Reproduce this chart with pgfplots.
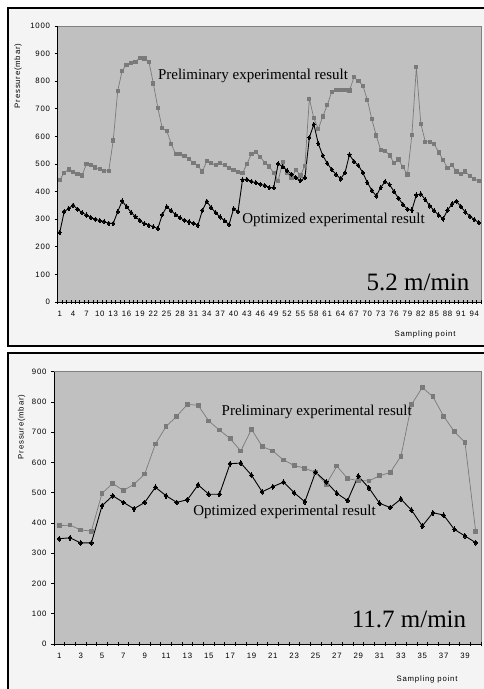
\documentclass[border=0pt]{standalone}
\usepackage{fontspec}
\setmainfont{Liberation Serif}
\newfontfamily\sansf[LetterSpace=10]{Liberation Sans}
\usepackage{pgfplots}
\pgfplotsset{compat=1.18}
\definecolor{bgc}{HTML}{F4F4F4}
\definecolor{plotbg}{HTML}{C0C0C0}
\definecolor{prelim}{HTML}{7A7A7A}

\pgfplotsset{
  mystyle/.style={
    scale only axis,
    axis x line*=bottom, axis y line*=left,
    axis line style={-, black, line width=0.9pt},
    axis background/.style={fill=plotbg, draw=gray, line width=0.6pt},
    ymin=0,
    major x tick style={draw=none},
    minor x tick style={black, line width=0.6pt},
    minor tick length=4pt,
    xtick align=center,
    ytick align=outside,
    major tick length=3pt,
    y tick style={black, line width=0.6pt},
    ticklabel style={font=\sansf\fontsize{7.8}{9}\selectfont},
    /pgf/number format/assume math mode=true,
    /pgf/number format/1000 sep={},
    xticklabel style={yshift=-4.5pt},
    yticklabel style={xshift=-1pt},
  },
  prelimplot/.style={color=prelim, line width=0.7pt, mark=square*, mark options={fill=prelim, draw=prelim, line width=0pt}},
  optplot/.style={color=black, line width=0.9pt, mark=diamond*, mark options={fill=black, draw=black, line width=0pt}},
}

\begin{document}
\begin{tikzpicture}[x=1pt,y=1pt]
\useasboundingbox (0,0) rectangle (483,689);
\fill[white] (0,0) rectangle (483,689);
\draw[line width=2pt, fill=bgc] (7.5,680.5) rectangle (495,342.5);
\draw[line width=2pt, fill=bgc] (7.5,335.5) rectangle (495,-10);

% ---------- top chart ----------
\begin{axis}[mystyle,
  at={(57.5pt,387pt)}, anchor=south west,
  width=423.5pt, height=276pt,
  xmin=0.5, xmax=95.5, ymax=1000,
  xtick={1,4,...,94},
  minor xtick={0.5,1.5,...,95.5},
  ytick={0,100,...,1000},
]
\addplot[prelimplot, mark size=1.6pt] coordinates {
(1,442) (2,468) (3,480) (4,470) (5,463) (6,458) (7,501) (8,496) (9,487) (10,481)
(11,476) (12,476) (13,585) (14,764) (15,838) (16,859) (17,866) (18,871) (19,885) (20,882)
(21,871) (22,792) (23,704) (24,629) (25,621) (26,573) (27,536) (28,536) (29,530) (30,517)
(31,505) (32,493) (33,473) (34,511) (35,503) (36,495) (37,503) (38,495) (39,485) (40,479)
(41,470) (42,467) (43,500) (44,537) (45,543) (46,525) (47,505) (48,491) (49,467) (50,439)
(51,506) (52,467) (53,451) (54,479) (55,458) (56,494) (57,736) (58,666) (59,627) (60,672)
(61,713) (62,760) (63,768) (64,768) (65,768) (66,766) (67,814) (68,801) (69,784) (70,733)
(71,663) (72,603) (73,551) (74,548) (75,531) (76,503) (77,516) (78,488) (79,462) (80,606)
(81,850) (82,646) (83,581) (84,581) (85,573) (86,542) (87,515) (88,485) (89,495) (90,473)
(91,464) (92,473) (93,456) (94,446) (95,438)
};
\addplot[optplot, mark size=2.1pt] coordinates {
(1,252) (2,327) (3,339) (4,351) (5,336) (6,324) (7,315) (8,306) (9,300) (10,295)
(11,291) (12,285) (13,285) (14,327) (15,366) (16,345) (17,325) (18,309) (19,295) (20,284)
(21,278) (22,273) (23,266) (24,316) (25,345) (26,331) (27,316) (28,305) (29,296) (30,290)
(31,285) (32,278) (33,332) (34,365) (35,341) (36,323) (37,308) (38,294) (39,281) (40,338)
(41,328) (42,443) (43,444) (44,437) (45,432) (46,427) (47,422) (48,415) (49,414) (50,501)
(51,490) (52,476) (53,463) (54,450) (55,440) (56,450) (57,596) (58,644) (59,574) (60,531)
(61,503) (62,480) (63,462) (64,446) (65,469) (66,534) (67,509) (68,495) (69,468) (70,433)
(71,405) (72,384) (73,415) (74,436) (75,425) (76,400) (77,376) (78,353) (79,336) (80,333)
(81,388) (82,391) (83,371) (84,348) (85,331) (86,315) (87,301) (88,333) (89,355) (90,365)
(91,345) (92,326) (93,311) (94,299) (95,287)
};
\end{axis}
\node[font=\fontsize{15}{18}\selectfont] at (253,613) {Preliminary experimental result};
\node[font=\fontsize{15}{18}\selectfont] at (333.5,469) {Optimized experimental result};
\node[font=\fontsize{25}{30}\selectfont] at (418,407) {5.2 m/min};
\node[font=\sansf\fontsize{7.8}{9}\selectfont, rotate=90] at (18,613) {Pressure(mbar)};
\node[font=\sansf\fontsize{7.8}{9}\selectfont] at (425,355) {Sampling point};

% ---------- bottom chart ----------
\begin{axis}[mystyle,
  at={(54pt,45pt)}, anchor=south west,
  width=427pt, height=272.3pt,
  xmin=0.5, xmax=40.5, ymax=900,
  xtick={1,3,...,39},
  minor xtick={0.5,1.5,...,40.5},
  ytick={0,100,...,900},
]
\addplot[prelimplot, mark size=1.9pt] coordinates {
(1,391) (2,393) (3,377) (4,373) (5,498) (6,531) (7,507) (8,528) (9,562) (10,661)
(11,719) (12,753) (13,792) (14,789) (15,737) (16,707) (17,679) (18,638) (19,710) (20,653)
(21,638) (22,608) (23,590) (24,581) (25,567) (26,528) (27,588) (28,547) (29,540) (30,539)
(31,556) (32,567) (33,621) (34,792) (35,848) (36,817) (37,753) (38,702) (39,666) (40,373)
};
\addplot[optplot, mark size=2.4pt] coordinates {
(1,348) (2,351) (3,334) (4,334) (5,457) (6,490) (7,468) (8,447) (9,468) (10,518)
(11,490) (12,468) (13,477) (14,526) (15,495) (16,495) (17,596) (18,598) (19,558) (20,503)
(21,520) (22,535) (23,500) (24,470) (25,568) (26,536) (27,498) (28,474) (29,555) (30,516)
(31,465) (32,451) (33,479) (34,442) (35,390) (36,434) (37,426) (38,379) (39,357) (40,335)
};
\end{axis}
\node[font=\fontsize{15}{18}\selectfont] at (316.7,277.3) {Preliminary experimental result};
\node[font=\fontsize{15}{18}\selectfont] at (284.5,176.7) {Optimized experimental result};
\node[font=\fontsize{25}{30}\selectfont] at (409,70) {11.7 m/min};
\node[font=\sansf\fontsize{7.8}{9}\selectfont, rotate=90] at (21.7,262) {Pressure(mbar)};
\node[font=\sansf\fontsize{7.8}{9}\selectfont] at (427,10) {Sampling point};
\end{tikzpicture}
\end{document}
